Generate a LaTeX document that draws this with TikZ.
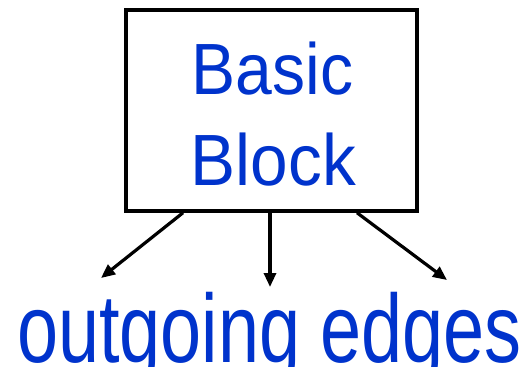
\documentclass[tikz,border=0pt]{standalone}
\usepackage{fontspec}
\setmainfont{Liberation Sans}
\usetikzlibrary{arrows.meta}
\definecolor{textblue}{HTML}{0033CC}
\tikzset{
  blockbox/.style={draw=black, line width=3.5pt, minimum width=291pt, minimum height=201pt, inner sep=0pt},
  bigword/.style={text=textblue, inner sep=0pt, anchor=base},
  edgearrow/.style={line width=3.2pt, -{Triangle[length=14pt,width=12pt]}},
}
\begin{document}
\begin{tikzpicture}[x=1pt, y=-1pt]
  \useasboundingbox (0,0) rectangle (523,367);
  % the basic block
  \node[blockbox] (bb) at (271.5,110.5) {};
  \node[bigword] (w1) at (272.5,94) {\scalebox{0.91}[1]{\fontsize{72.6}{72.6}\selectfont Basic}};
  \node[bigword] (w2) at (273.5,185) {\scalebox{0.93}[1]{\fontsize{72.6}{72.6}\selectfont Block}};
  % ends of the outgoing edges
  \coordinate (e1) at (101,278);
  \coordinate (e2) at (270,287);
  \coordinate (e3) at (447,280);
  \draw[edgearrow] ([xshift=-88.5pt]bb.south) -- (e1);
  \draw[edgearrow] ([xshift=-1.5pt]bb.south) -- (e2);
  \draw[edgearrow] ([xshift=85.5pt]bb.south) -- (e3);
  % caption
  \node[bigword, anchor=base west] (cap) at (17,362) {\scalebox{0.761}[1]{\fontsize{97}{97}\selectfont outgoing edges}};
\end{tikzpicture}
\end{document}
